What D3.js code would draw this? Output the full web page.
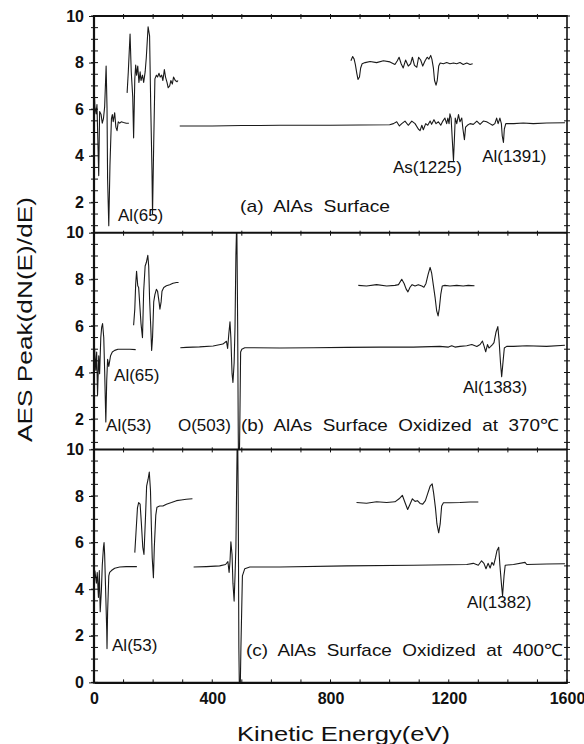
<!DOCTYPE html>
<html lang="en">
<head>
<meta charset="UTF-8">
<title>AES spectra of AlAs</title>
<script src="https://cdn.jsdelivr.net/npm/d3@7"></script>
<style>
  body { margin: 0; background: #fff; }
  svg { display: block; font-family: "Liberation Sans", Arial, sans-serif; }
  .trace { fill: none; stroke: #1a1a1a; stroke-width: 1.1; stroke-linejoin: round; }
  .frame { stroke: #111; fill: none; }
  .tick-label { font-weight: bold; font-size: 16px; fill: #111; }
  .note { font-size: 17px; fill: #111; }
  .title { font-size: 21px; fill: #111; }
</style>
</head>
<body>
<div id="chart"></div>
<script>
// energy axis labels and value axis labels
const energyTicks = [0, 400, 800, 1200, 1600];
const valueTicks = [0, 2, 4, 6, 8, 10];

// (a) AlAs surface : [energy eV, dN/dE]
const aLow = [[0,7.15],[3,6.1],[7,5.8],[10,6.2],[16,3.15],[19,5.9],[24,5.77],[28,5.4],[32,5.6],[36,6.1],[41,7.85],[44,6.1],[46,3.0],[50,1.0],[54,3.6],[59,5.6],[62,5.77],[65,5.46],[70,5.85],[74,5.23],[78,5.08],[82,5.46],[87,5.4],[92,5.46],[100,5.43],[109,5.4],[118,5.4]];
const aMid = [[112,6.7],[116,7.6],[122,9.23],[126,7.6],[131,6.54],[134,4.77],[138,7.3],[141,7.9],[144,7.46],[148,7.85],[152,7.15],[156,7.6],[159,7.23],[164,7.46],[168,7.15],[173,7.6],[177,8.23],[183,9.54],[188,9.15],[192,6.08],[196,3.46],[198,1.5],[202,4.54],[206,7.3],[211,7.46],[215,7.38],[220,7.54],[224,7.38],[229,7.46],[233,7.23],[238,7.7],[242,7.38],[247,7.15],[251,6.92],[256,7.0],[260,7.23],[265,7.08],[269,7.38],[275,7.23],[281,7.18],[284,7.23]];
const aMain = [[290,5.28],[400,5.28],[500,5.3],[560,5.3],[629,5.31],[700,5.31],[800,5.31],[900,5.32],[1000,5.33],[1013,5.38],[1024,5.46],[1033,5.28],[1041,5.38],[1052,5.49],[1063,5.31],[1075,5.49],[1086,5.38],[1097,5.15],[1103,5.08],[1109,5.31],[1114,5.12],[1122,5.38],[1129,5.31],[1137,5.49],[1142,5.35],[1150,5.55],[1157,5.38],[1165,5.46],[1173,5.31],[1180,5.49],[1187,5.62],[1193,5.38],[1197,5.62],[1201,5.38],[1204,5.8],[1208,5.62],[1212,4.69],[1216,3.8],[1219,4.69],[1222,5.62],[1227,5.38],[1233,5.77],[1238,5.46],[1244,5.62],[1248,5.15],[1253,4.69],[1257,5.23],[1263,5.31],[1272,5.38],[1283,5.35],[1295,5.49],[1306,5.35],[1317,5.49],[1328,5.46],[1339,5.38],[1348,5.31],[1356,5.38],[1362,5.62],[1367,5.38],[1373,5.62],[1378,5.38],[1381,4.85],[1385,4.57],[1388,5.15],[1393,5.38],[1402,5.38],[1420,5.38],[1452,5.41],[1486,5.38],[1531,5.41],[1593,5.42]];
const aInset = [[869,8.08],[875,8.26],[880,8.15],[884,7.92],[889,7.54],[893,7.28],[898,7.38],[902,7.77],[907,7.95],[917,8.0],[934,8.05],[956,8.0],[979,8.08],[1001,8.03],[1018,7.92],[1026,8.08],[1032,8.23],[1039,7.95],[1046,7.77],[1054,8.11],[1063,7.85],[1071,7.95],[1077,8.23],[1084,7.88],[1092,7.8],[1098,8.23],[1105,8.11],[1112,7.85],[1120,8.08],[1127,8.23],[1133,8.15],[1139,8.31],[1143,8.15],[1148,7.77],[1152,7.23],[1157,7.03],[1161,7.23],[1166,7.85],[1171,7.98],[1182,7.95],[1193,8.0],[1204,7.95],[1216,7.98],[1227,7.95],[1238,8.0],[1249,7.92],[1261,7.98],[1272,7.92],[1281,7.95]];

// (b) oxidized at 370 C
const bLow = [[2,5.03],[6,4.1],[9,4.88],[12,3.03],[16,4.72],[19,3.95],[23,5.5],[26,5.95],[29,6.1],[33,5.5],[36,4.1],[40,1.88],[43,3.65],[46,4.57],[50,4.26],[53,4.49],[56,4.72],[62,4.88],[70,4.95],[81,5.0],[98,5.0],[121,5.0],[141,4.98]];
const bMid = [[134,6.03],[138,6.72],[141,7.8],[144,8.34],[148,7.72],[151,7.65],[155,6.88],[159,6.1],[164,5.49],[168,7.49],[173,8.57],[177,8.72],[182,9.03],[185,8.57],[188,7.18],[192,5.95],[195,4.95],[198,5.49],[202,7.03],[206,7.34],[211,7.57],[215,7.49],[220,7.03],[223,6.72],[227,7.03],[230,7.49],[236,7.65],[245,7.72],[256,7.77],[267,7.83],[279,7.86],[286,7.86]];
const bMain = [[292,5.06],[312,5.08],[357,5.1],[403,5.14],[436,5.22],[448,5.34],[452,5.03],[456,5.65],[460,6.18],[463,5.49],[467,3.95],[470,3.57],[474,4.41],[477,5.95],[480,9.03],[483,10.6],[486,5.95],[488,1.34],[490,-1.5],[493,1.5],[496,4.88],[500,5.0],[510,5.06],[540,5.06],[629,5.05],[742,5.06],[855,5.08],[968,5.09],[1080,5.09],[1170,5.12],[1199,5.09],[1210,5.15],[1221,5.09],[1238,5.12],[1261,5.15],[1278,5.2],[1295,5.12],[1306,5.2],[1314,5.35],[1319,5.15],[1325,4.89],[1331,5.2],[1336,5.05],[1342,5.12],[1348,5.2],[1353,5.28],[1360,5.74],[1366,5.97],[1370,5.43],[1375,4.43],[1379,3.82],[1384,4.51],[1388,5.05],[1396,5.12],[1419,5.12],[1464,5.15],[1531,5.12],[1593,5.17]];
const bInset = [[894,7.74],[922,7.71],[956,7.77],[990,7.71],[1018,7.74],[1030,7.77],[1041,8.0],[1049,7.82],[1056,7.58],[1062,7.46],[1069,7.66],[1076,7.77],[1086,7.71],[1097,7.77],[1109,7.71],[1116,7.66],[1123,7.82],[1130,8.2],[1137,8.51],[1142,8.28],[1148,7.74],[1154,7.2],[1159,6.66],[1164,6.43],[1168,6.74],[1173,7.35],[1178,7.71],[1187,7.74],[1204,7.71],[1227,7.74],[1249,7.71],[1266,7.74],[1287,7.72]];

// (c) oxidized at 400 C
const cLow = [[3,4.8],[8,4.26],[11,4.72],[15,3.65],[18,4.8],[21,3.03],[25,3.95],[28,5.03],[32,5.8],[34,6.0],[36,5.49],[40,3.65],[43,2.26],[44,1.45],[46,3.0],[50,4.57],[53,4.72],[59,4.8],[70,4.9],[87,4.95],[109,4.97],[145,4.97]];
const cMid = [[138,5.57],[142,6.42],[147,7.49],[151,7.72],[156,7.65],[160,6.88],[165,5.8],[169,5.49],[174,7.03],[178,8.42],[183,8.72],[187,9.03],[191,8.26],[194,6.72],[197,5.34],[201,4.49],[204,5.8],[209,7.18],[213,7.52],[222,7.57],[233,7.57],[245,7.65],[262,7.72],[279,7.8],[295,7.83],[312,7.86],[333,7.88]];
const cMain = [[337,4.95],[380,4.97],[425,5.0],[445,5.06],[453,5.18],[457,4.72],[460,5.18],[463,6.03],[467,5.49],[470,4.26],[474,3.49],[477,4.57],[480,5.8],[484,9.95],[486,10.7],[488,7.6],[490,1.5],[493,-1.6],[497,1.5],[502,4.57],[510,4.88],[527,4.95],[629,4.95],[855,5.0],[1080,5.03],[1261,5.06],[1283,5.11],[1300,5.03],[1311,5.22],[1319,5.11],[1326,4.88],[1333,5.11],[1340,4.91],[1346,5.15],[1352,5.03],[1358,5.34],[1363,5.65],[1369,5.8],[1373,5.03],[1379,4.11],[1382,3.72],[1387,4.57],[1391,5.03],[1419,5.06],[1458,5.15],[1464,5.06],[1531,5.08],[1593,5.09]];
const cInset = [[888,7.72],[922,7.69],[956,7.75],[990,7.72],[1018,7.75],[1032,7.88],[1043,8.03],[1052,7.72],[1061,7.42],[1069,7.65],[1077,7.88],[1086,7.77],[1094,7.8],[1103,7.68],[1112,7.65],[1121,7.8],[1129,8.11],[1137,8.42],[1144,8.52],[1149,8.11],[1155,7.49],[1160,6.8],[1166,6.42],[1171,6.8],[1176,7.57],[1182,7.71],[1204,7.71],[1238,7.72],[1272,7.74],[1300,7.74]];

// peak labels: [text, energy, value]
const aNotes = [["Al(65)", 81, 1.2], ["(a)  AlAs  Surface", 494, 1.59], ["As(1225)", 1011, 3.26], ["Al(1391)", 1313, 3.73]];
const bNotes = [["Al(65)", 68, 3.64], ["Al(53)", 41, 1.49], ["O(503)", 284, 1.49], ["(b)  AlAs  Surface  Oxidized  at  370\u2103", 497, 1.49], ["Al(1383)", 1248, 3.12]];
const cNotes = [["Al(53)", 61, 1.35], ["(c)  AlAs  Surface  Oxidized  at  400\u2103", 514, 1.13], ["Al(1382)", 1262, 3.2]];

const width = 584, height = 744;
const left = 94, right = 567;
const unit = 23.3;
const panels = [
  {top: 16,    span: 9.3, series: [aLow, aMid, aMain, aInset], notes: aNotes},
  {top: 232.7, span: 9.3, series: [bLow, bMid, bMain, bInset], notes: bNotes},
  {top: 449.4, span: 10,  series: [cLow, cMid, cMain, cInset], notes: cNotes}
];
const bottom = panels[2].top + 10 * unit;
const longNote = {"(a)": 150, "(b)": 318, "(c)": 317};

const svg = d3.select("#chart").append("svg")
  .attr("width", width).attr("height", height);

const x = d3.scaleLinear().domain([0, 1600]).range([left, right]);

panels.forEach((p, i) => {
  const y = d3.scaleLinear().domain([0, 10]).range([p.top + 10 * unit, p.top]);
  const lowest = 10 - p.span;
  const g = svg.append("g");

  g.append("clipPath").attr("id", "clip" + i)
    .append("rect")
    .attr("x", left).attr("y", p.top)
    .attr("width", right - left).attr("height", p.span * unit);

  const line = d3.line().x(d => x(d[0])).y(d => y(d[1]));
  g.append("g").attr("clip-path", `url(#clip${i})`)
    .selectAll("path").data(p.series).join("path")
    .attr("class", "trace").attr("d", line);

  // left axis: labels at 2, ticks every 0.5 crossing the line
  const minor = d3.range(10, lowest - 0.01, -0.5);
  const labelled = valueTicks.filter(v => v >= lowest - 0.01);
  g.append("g").attr("transform", `translate(${left},0)`)
    .call(d3.axisLeft(y).tickValues(labelled).tickSize(5).tickPadding(5).tickFormat(d3.format("d")))
    .call(a => a.select(".domain").remove())
    .call(a => a.selectAll("text").attr("class", "tick-label").attr("font-size", null).attr("font-family", null))
    .call(a => a.selectAll("line").attr("stroke", "#111"));
  g.selectAll(".minorL").data(minor).join("line")
    .attr("x1", left - 3).attr("x2", left + 4)
    .attr("y1", d => y(d)).attr("y2", d => y(d)).attr("stroke", "#111");
  g.selectAll(".minorR").data(minor).join("line")
    .attr("x1", right - 3).attr("x2", right + 3)
    .attr("y1", d => y(d)).attr("y2", d => y(d)).attr("stroke", "#111");

  // top line of each panel with 100 eV ticks
  g.append("line").attr("class", "frame").attr("stroke-width", 2)
    .attr("x1", left).attr("x2", right).attr("y1", p.top).attr("y2", p.top);
  g.selectAll(".etick").data(d3.range(100, 1600, 100)).join("line")
    .attr("x1", d => x(d)).attr("x2", d => x(d))
    .attr("y1", p.top - 2).attr("y2", p.top + 3).attr("stroke", "#111");

  g.selectAll(".note").data(p.notes).join("text")
    .attr("class", "note")
    .attr("x", d => x(d[1])).attr("y", d => y(d[2]))
    .attr("xml:space", "preserve")
    .each(function(d) {
      const w = longNote[d[0].slice(0, 3)];
      if (w) d3.select(this).attr("textLength", w).attr("lengthAdjust", "spacingAndGlyphs");
    })
    .text(d => d[0]);
});

// frame sides and bottom energy axis
svg.append("line").attr("class", "frame").attr("stroke-width", 2.2)
  .attr("x1", left).attr("x2", left).attr("y1", panels[0].top - 1).attr("y2", bottom + 1);
svg.append("line").attr("class", "frame").attr("stroke-width", 1.6)
  .attr("x1", right).attr("x2", right).attr("y1", panels[0].top - 1).attr("y2", bottom + 1);

const xAxis = svg.append("g").attr("transform", `translate(0,${bottom})`)
  .call(d3.axisBottom(x).tickValues(energyTicks).tickSize(0).tickPadding(10).tickFormat(d3.format("d")));
xAxis.select(".domain").attr("stroke", "#111").attr("stroke-width", 2.2);
xAxis.selectAll("text").attr("class", "tick-label").attr("font-size", null).attr("font-family", null);
svg.selectAll(".btick").data(d3.range(0, 1601, 100)).join("line")
  .attr("x1", d => x(d)).attr("x2", d => x(d))
  .attr("y1", bottom - 3).attr("y2", bottom + 1).attr("stroke", "#111");

svg.append("text").attr("class", "title")
  .attr("x", 237).attr("y", 741)
  .attr("textLength", 213).attr("lengthAdjust", "spacingAndGlyphs")
  .text("Kinetic Energy(eV)");

svg.append("text").attr("class", "title")
  .attr("transform", "translate(32,442) rotate(-90)")
  .attr("textLength", 245).attr("lengthAdjust", "spacingAndGlyphs")
  .text("AES Peak(dN(E)/dE)");
</script>
</body>
</html>
